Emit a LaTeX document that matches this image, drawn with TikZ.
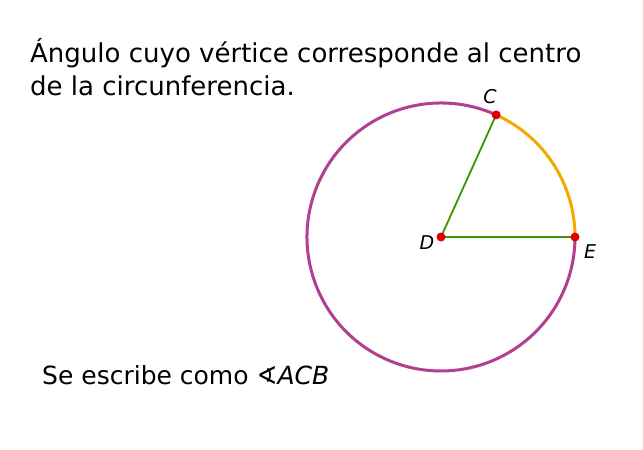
\documentclass[tikz,border=0pt]{standalone}
\usepackage{fontspec}
\setmainfont{DejaVu Sans}
\definecolor{circpurple}{RGB}{178,64,144}
\definecolor{arcorange}{RGB}{246,168,0}
\definecolor{radgreen}{RGB}{60,150,0}
\definecolor{ptred}{RGB}{224,0,0}
\tikzset{
  texto/.style={anchor=base west,font=\fontsize{26}{33}\selectfont,inner sep=0pt},
  etiq/.style={font=\fontsize{19}{22}\selectfont\itshape,inner sep=0pt},
  punto/.style={circle,fill=ptred,inner sep=0pt,minimum size=9pt}
}
\begin{document}
\begin{tikzpicture}[x=1pt,y=-1pt,line cap=butt,line join=miter]
	\useasboundingbox[fill=white] (0,0) rectangle (643,450);
	\node[texto] (t1) at (30,62) {Ángulo cuyo vértice corresponde al centro};
	\node[texto] (t2) at (30,95) {de la circunferencia.};
	\node[texto,font=\fontsize{25}{33}\selectfont] (t3) at (42,384) {Se escribe como ∢\textit{ACB}};
	\coordinate (D) at (441,237);
	% circunferencia y arco CE
	\draw[circpurple,line width=3pt] (D) ++(-65.7:134) arc[start angle=-65.7,end angle=-360,radius=134];
	\draw[arcorange,line width=3pt] (D) ++(0:134) arc[start angle=0,end angle=-65.7,radius=134];
	\path (D) ++(-65.7:134) coordinate (C) (D) ++(0:134) coordinate (E);
	\draw[radgreen,line width=1.8pt] (C) -- (D) -- (E);
	\foreach \p in {C,D,E}{
		\node[punto] (p\p) at (\p) {};
	}
	\node[etiq] (lC) at (490,97) {C};
	\node[etiq] (lD) at (427,243) {D};
	\node[etiq] (lE) at (590,252) {E};
\end{tikzpicture}
\end{document}
